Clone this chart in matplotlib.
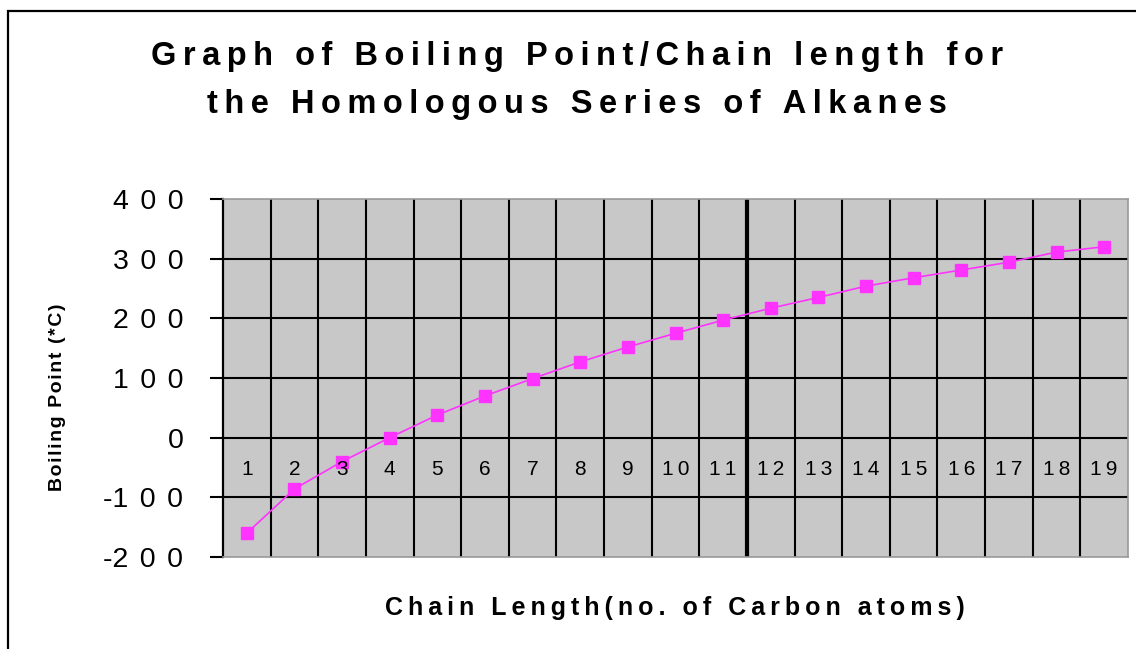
import matplotlib
matplotlib.use('Agg')
import matplotlib.pyplot as plt
from matplotlib.patches import Rectangle

# data
chain_length = [1, 2, 3, 4, 5, 6, 7, 8, 9, 10, 11, 12, 13, 14, 15, 16, 17, 18, 19]
boiling_point = [-160, -86, -40, 0, 38, 70, 99, 127, 152, 175, 197, 217,
                 235, 254, 268, 281, 294, 311, 320]
y_ticks = [-200, -100, 0, 100, 200, 300, 400]

title_lines = ['Graph of Boiling Point/Chain length for',
               'the Homologous Series of Alkanes']
x_label = 'Chain Length(no. of Carbon atoms)'
y_label = 'Boiling Point (*C)'

FONT = ['Liberation Sans', 'DejaVu Sans']
THIN = '\u2009'
HAIR = '\u200a'


def spaced(text, n=1, sep=THIN):
    # old Excel charts draw text with wide letter spacing
    return (sep * n).join(text)


def tick_text(v):
    sign = '-' if v < 0 else ''
    return sign + spaced(str(abs(v)), 2)


W, H = 1136, 649
fig = plt.figure(figsize=(W / 100, H / 100), dpi=100)
fig.patch.set_facecolor('white')

# outer chart border (runs off the right and bottom of the picture)
fig.patches.append(Rectangle((8 / W, -0.2), 1.2, 1.2 - 11 / H,
                             transform=fig.transFigure, fill=False,
                             edgecolor='black', linewidth=1.6))

ax = fig.add_axes([223 / W, 1 - 557 / H, 905 / W, 358 / H])
ax.set_facecolor('#C8C8C8')
ax.set_xlim(chain_length[0] - 0.5, chain_length[-1] + 0.5)
ax.set_ylim(y_ticks[0], y_ticks[-1])

# category gridlines between points
bounds = [c + 0.5 for c in chain_length[:-1]]
for i, b in enumerate(bounds):
    ax.axvline(b, color='black', linewidth=3.0 if i == 10 else 1.5, zorder=1)
for v in y_ticks[1:-1]:
    ax.axhline(v, color='black', linewidth=1.5, zorder=1)

ax.plot(chain_length, boiling_point, color='#FF33FF', linewidth=1.2,
        marker='s', markersize=8.5, zorder=3)

for sp in ['top', 'right', 'bottom']:
    ax.spines[sp].set_color('#999999')
    ax.spines[sp].set_linewidth(1.2)
ax.spines['left'].set_color('black')
ax.spines['left'].set_linewidth(1.6)

ax.set_xticks([])
ax.set_yticks(y_ticks)
ax.set_yticklabels([tick_text(v) for v in y_ticks], fontsize=20.5,
                   fontfamily=FONT)
ax.tick_params(axis='y', direction='out', length=9.5, width=1.5, pad=19)

# category labels sit just under the zero line
for c in chain_length:
    ax.annotate(spaced(str(c), 1), (c, 0), xytext=(0, -23),
                textcoords='offset points', ha='center', va='center',
                fontsize=15, fontfamily=FONT, zorder=4)

fig.text(577 / W, 1 - 57 / H, spaced(title_lines[0]), ha='center',
         va='center', fontsize=23.5, fontweight='bold', fontfamily=FONT)
fig.text(577 / W, 1 - 104 / H, spaced(title_lines[1]), ha='center',
         va='center', fontsize=23.5, fontweight='bold', fontfamily=FONT)
fig.text(675 / W, 1 - 608 / H, spaced(x_label), ha='center', va='center',
         fontsize=18, fontweight='bold', fontfamily=FONT)
fig.text(57 / W, 1 - 397 / H, spaced(y_label, 1, HAIR), ha='center',
         va='center', rotation=90, fontsize=14, fontweight='bold',
         fontfamily=FONT)

fig.savefig('out.png', dpi=100)
